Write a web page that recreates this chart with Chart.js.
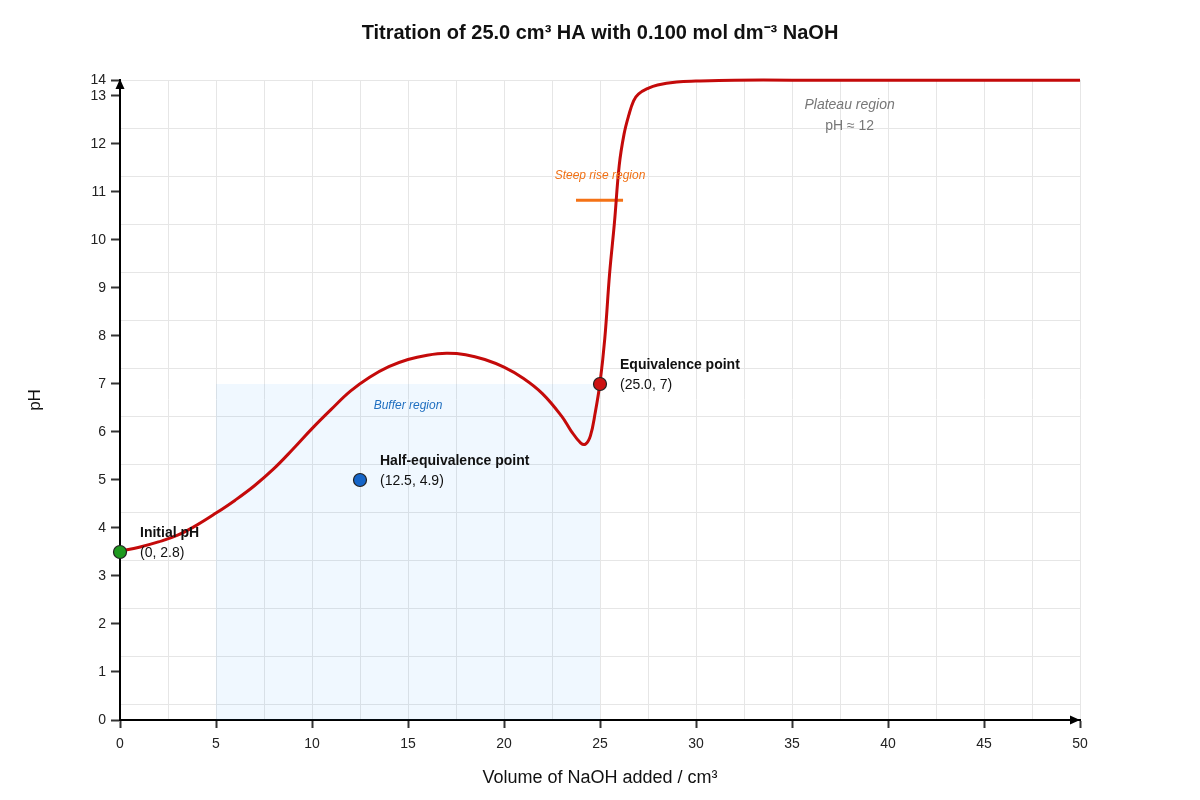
<!DOCTYPE html>
<html>
<head>
<meta charset="utf-8">
<title>Titration curve</title>
<script src="https://cdn.jsdelivr.net/npm/chart.js@4.4.1/dist/chart.umd.min.js"></script>
<style>
  html, body { margin: 0; padding: 0; background: #fff; }
  #wrap { width: 1200px; height: 800px; }
</style>
</head>
<body>
<div id="wrap"><canvas id="titrationChart"></canvas></div>
<script>
// titration curve
const volumes = [0, 1, 2, 3, 4, 5, 6, 7, 8, 9, 10, 11, 12, 13, 14, 15, 16, 17, 18, 19, 20, 21, 22, 23, 23.5, 24, 24.25, 24.5, 24.75, 25, 25.25, 25.5, 25.75, 26, 26.25, 26.5, 26.75, 27, 27.5, 28, 29, 30, 32, 35, 40, 45, 50];
const phValues = [3.52, 3.6, 3.71, 3.85, 4.06, 4.31, 4.58, 4.88, 5.23, 5.64, 6.07, 6.47, 6.85, 7.14, 7.36, 7.51, 7.6, 7.64, 7.61, 7.51, 7.35, 7.12, 6.8, 6.33, 6.02, 5.77, 5.75, 5.92, 6.4, 7.02, 7.95, 9.3, 10.35, 11.55, 12.2, 12.6, 12.9, 13.04, 13.16, 13.23, 13.29, 13.31, 13.33, 13.33, 13.33, 13.33, 13.33];

// marked points
const keyNames = ['Initial pH', 'Half-equivalence point', 'Equivalence point'];
const keyCoords = ['(0, 2.8)', '(12.5, 4.9)', '(25.0, 7)'];
const keyX = [0, 12.5, 25];
const keyY = [3.5, 5.0, 7.0];
const keyColors = ['#1f9a1f', '#1565c8', '#cc1111'];

// shaded / marked regions
const bufferX = [5, 25];
const bufferTop = 7;
const steepX = [23.75, 26.2];
const steepY = 10.83;

const xTicks = [0, 2.5, 5, 7.5, 10, 12.5, 15, 17.5, 20, 22.5, 25, 27.5, 30, 32.5, 35, 37.5, 40, 42.5, 45, 47.5, 50];
const yTicks = [0, 1, 2, 3, 4, 5, 6, 7, 8, 9, 10, 11, 12, 13, 13.333];
const yGridLines = [0.333, 1.333, 2.333, 3.333, 4.333, 5.333, 6.333, 7.333, 8.333, 9.333, 10.333, 11.333, 12.333, 13.333];
const yMax = 13.333;

const FONT = '"Liberation Sans", Arial, sans-serif';
Chart.defaults.font.family = FONT;
Chart.defaults.color = '#222';

const annotationsPlugin = {
  id: 'annotations',
  afterDatasetsDraw(chart) {
    const { ctx, scales: { x, y } } = chart;
    ctx.save();
    ctx.textBaseline = 'middle';

    // point labels
    ctx.textAlign = 'left';
    ctx.fillStyle = '#111';
    keyNames.forEach((name, i) => {
      const px = x.getPixelForValue(keyX[i]) + 20;
      const py = y.getPixelForValue(keyY[i]);
      ctx.font = 'bold 14px ' + FONT;
      ctx.fillText(name, px, py - 19);
      ctx.font = '14px ' + FONT;
      ctx.fillText(keyCoords[i], px, py + 1);
    });

    ctx.textAlign = 'center';
    ctx.font = 'italic 12px ' + FONT;
    ctx.fillStyle = '#1f6fc0';
    ctx.fillText('Buffer region', x.getPixelForValue(15), y.getPixelForValue(6.54));

    ctx.fillStyle = '#f07014';
    ctx.fillText('Steep rise region', x.getPixelForValue(25), y.getPixelForValue(11.33));

    ctx.fillStyle = '#777';
    ctx.font = 'italic 14px ' + FONT;
    ctx.fillText('Plateau region', x.getPixelForValue(38), y.getPixelForValue(12.81));
    ctx.font = '14px ' + FONT;
    ctx.fillText('pH \u2248 12', x.getPixelForValue(38), y.getPixelForValue(12.38));
    ctx.restore();
  },
  afterDraw(chart) {
    // arrow heads on the axes
    const { ctx, chartArea: a } = chart;
    ctx.save();
    ctx.fillStyle = '#000';
    ctx.beginPath();
    ctx.moveTo(a.right, a.bottom);
    ctx.lineTo(a.right - 10, a.bottom - 4.5);
    ctx.lineTo(a.right - 10, a.bottom + 4.5);
    ctx.closePath();
    ctx.fill();
    ctx.beginPath();
    ctx.moveTo(a.left, a.top - 1);
    ctx.lineTo(a.left - 4.5, a.top + 9);
    ctx.lineTo(a.left + 4.5, a.top + 9);
    ctx.closePath();
    ctx.fill();
    ctx.restore();
  }
};

new Chart(document.getElementById('titrationChart'), {
  type: 'line',
  data: {
    datasets: [
      {
        type: 'scatter',
        label: 'Key points',
        data: keyX.map((v, i) => ({ x: v, y: keyY[i] })),
        backgroundColor: keyColors,
        borderColor: '#222',
        borderWidth: 1.2,
        pointRadius: 6.5,
        clip: false,
        order: 0
      },
      {
        label: 'pH',
        data: volumes.map((v, i) => ({ x: v, y: phValues[i] })),
        borderColor: '#c40a0a',
        borderWidth: 3,
        pointRadius: 0,
        tension: 0.4,
        fill: false,
        clip: false,
        order: 1
      },
      {
        label: 'Steep rise',
        data: steepX.map(v => ({ x: v, y: steepY })),
        borderColor: '#f47216',
        borderWidth: 3,
        pointRadius: 0,
        fill: false,
        order: 2
      },
      {
        label: 'Buffer',
        data: bufferX.map(v => ({ x: v, y: bufferTop })),
        borderWidth: 0,
        borderColor: 'rgba(0,0,0,0)',
        backgroundColor: 'rgba(30,144,255,0.065)',
        pointRadius: 0,
        fill: 'origin',
        order: 3
      }
    ]
  },
  options: {
    responsive: true,
    maintainAspectRatio: false,
    animation: false,
    layout: { padding: 0 },
    plugins: {
      legend: { display: false },
      tooltip: { enabled: false },
      title: {
        display: true,
        text: 'Titration of 25.0 cm\u00b3 HA with 0.100 mol dm\u207b\u00b3 NaOH',
        color: '#111',
        font: { size: 20, weight: 'bold' },
        padding: { top: 21, bottom: 35 }
      }
    },
    scales: {
      x: {
        type: 'linear',
        min: 0,
        max: 50,
        afterBuildTicks: scale => { scale.ticks = xTicks.map(v => ({ value: v })); },
        afterFit: scale => { scale.height = 80; },
        ticks: {
          autoSkip: false,
          maxRotation: 0,
          padding: 8,
          font: { size: 14 },
          color: '#222',
          callback: v => (v % 5 === 0 ? v : '')
        },
        grid: {
          color: '#e6e6e6',
          lineWidth: 1,
          tickLength: 8,
          tickWidth: 2,
          tickColor: ctx => (ctx.tick && ctx.tick.value % 5 === 0 ? '#333' : 'rgba(0,0,0,0)')
        },
        border: { display: true, color: '#000', width: 2 },
        title: {
          display: true,
          text: 'Volume of NaOH added / cm\u00b3',
          color: '#111',
          font: { size: 18 },
          padding: { top: 0, bottom: 11 }
        }
      },
      y: {
        type: 'linear',
        position: 'left',
        min: 0,
        max: yMax,
        afterBuildTicks: scale => { scale.ticks = yTicks.map(v => ({ value: v })); },
        afterFit: scale => { scale.width = 120; },
        ticks: {
          autoSkip: false,
          padding: 5,
          font: { size: 14 },
          color: '#222',
          callback: v => (v > 13.2 ? '14' : v)
        },
        grid: {
          drawOnChartArea: false,
          tickLength: 9,
          tickWidth: 2,
          tickColor: '#333'
        },
        border: { display: true, color: '#000', width: 2 },
        title: {
          display: true,
          text: 'pH',
          color: '#111',
          font: { size: 17 },
          padding: { top: 25, bottom: 0 }
        }
      },
      // horizontal grid lines sit off the integer ticks; this axis also reserves the right margin
      yGrid: {
        type: 'linear',
        position: 'right',
        min: 0,
        max: yMax,
        afterBuildTicks: scale => { scale.ticks = yGridLines.map(v => ({ value: v })); },
        afterFit: scale => { scale.width = 120; },
        ticks: { display: false },
        grid: { color: '#e6e6e6', lineWidth: 1, drawTicks: false },
        border: { display: false }
      }
    }
  },
  plugins: [annotationsPlugin]
});
</script>
</body>
</html>
